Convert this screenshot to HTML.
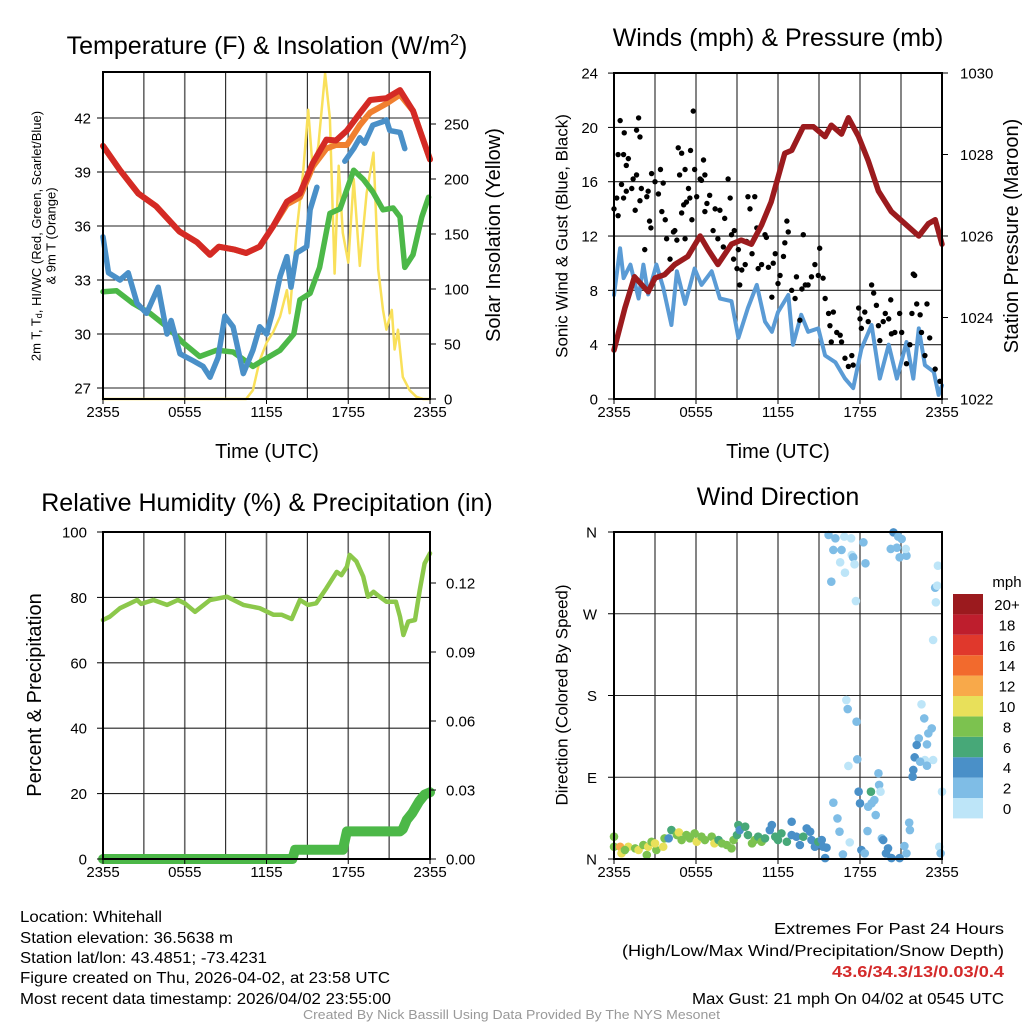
<!DOCTYPE html>
<html><head><meta charset="utf-8"><style>
html,body{margin:0;padding:0;background:#fff;}
svg{display:block;font-family:"Liberation Sans",sans-serif;}
</style></head><body>
<svg id="fig" width="1024" height="1024" viewBox="0 0 1024 1024" xmlns="http://www.w3.org/2000/svg">
<rect width="1024" height="1024" fill="#fff"/>
<g id="grid"></g>
<g id="marks"></g>
<g id="axes"></g>
<!-- titles -->
<text x="267" y="54" font-size="25" text-anchor="middle">Temperature (F) &amp; Insolation (W/m<tspan dy="-9" font-size="16">2</tspan><tspan dy="9">)</tspan></text>
<text x="778" y="46" font-size="25" text-anchor="middle">Winds (mph) &amp; Pressure (mb)</text>
<text x="267" y="511" font-size="25" text-anchor="middle">Relative Humidity (%) &amp; Precipitation (in)</text>
<text x="778" y="505" font-size="25" text-anchor="middle">Wind Direction</text>
<!-- x titles -->
<text x="267" y="458" font-size="20" text-anchor="middle">Time (UTC)</text>
<text x="778" y="458" font-size="20" text-anchor="middle">Time (UTC)</text>
<!-- y titles -->
<text transform="translate(36,236) rotate(-90)" font-size="13" text-anchor="middle" dominant-baseline="central">2m T, T<tspan dy="3" font-size="9">d</tspan><tspan dy="-3">, HI/WC (Red, Green, Scarlet/Blue)</tspan></text>
<text transform="translate(51,236) rotate(-90)" font-size="13" text-anchor="middle" dominant-baseline="central">&amp; 9m T (Orange)</text>
<text transform="translate(494,235) rotate(-90)" font-size="20" text-anchor="middle" dominant-baseline="central">Solar Insolation (Yellow)</text>
<text transform="translate(562,236) rotate(-90)" font-size="17" text-anchor="middle" dominant-baseline="central">Sonic Wind &amp; Gust (Blue, Black)</text>
<text transform="translate(1012,236) rotate(-90)" font-size="20" text-anchor="middle" dominant-baseline="central">Station Pressure (Maroon)</text>
<text transform="translate(35,695) rotate(-90)" font-size="20" text-anchor="middle" dominant-baseline="central">Percent &amp; Precipitation</text>
<text transform="translate(562,695) rotate(-90)" font-size="17" text-anchor="middle" dominant-baseline="central">Direction (Colored By Speed)</text>
<!-- colorbar -->
<g id="cbar"></g>
<text x="1007" y="587" font-size="15" text-anchor="middle">mph</text>
<!-- footer -->
<g font-size="16">
<text x="20" y="922" textLength="142" lengthAdjust="spacingAndGlyphs">Location: Whitehall</text>
<text x="20" y="943" textLength="213" lengthAdjust="spacingAndGlyphs">Station elevation: 36.5638 m</text>
<text x="20" y="963" textLength="247" lengthAdjust="spacingAndGlyphs">Station lat/lon: 43.4851; -73.4231</text>
<text x="20" y="983" textLength="370" lengthAdjust="spacingAndGlyphs">Figure created on Thu, 2026-04-02, at 23:58 UTC</text>
<text x="20" y="1004" textLength="371" lengthAdjust="spacingAndGlyphs">Most recent data timestamp: 2026/04/02 23:55:00</text>
</g>
<g font-size="16">
<text x="774" y="934" textLength="230" lengthAdjust="spacingAndGlyphs">Extremes For Past 24 Hours</text>
<text x="622" y="956" textLength="382" lengthAdjust="spacingAndGlyphs">(High/Low/Max Wind/Precipitation/Snow Depth)</text>
<text x="832" y="977" textLength="172" lengthAdjust="spacingAndGlyphs" font-weight="bold" fill="#d42a2a">43.6/34.3/13/0.03/0.4</text>
<text x="692" y="1004" textLength="312" lengthAdjust="spacingAndGlyphs">Max Gust: 21 mph On 04/02 at 0545 UTC</text>
</g>
<text x="303" y="1019" font-size="12.5" fill="#999" textLength="417" lengthAdjust="spacingAndGlyphs">Created By Nick Bassill Using Data Provided By The NYS Mesonet</text>
</svg>
<script>
// ---------- data ----------
const X_LABELS=['2355','0555','1155','1755','2355'];
const TEMP_TICKS=[27,30,33,36,39,42];
const INS_TICKS=[0,50,100,150,200,250];
const WIND_TICKS=[0,4,8,12,16,20,24];
const PRES_TICKS=[1022,1024,1026,1028,1030];
const RH_TICKS=[0,20,40,60,80,100];
const PCP_TICKS=[0,0.03,0.06,0.09,0.12];
const PCP_LABELS=['0.00','0.03','0.06','0.09','0.12'];
const DIR_TICKS=[0,90,180,270,360];
const DIR_LABELS=['N','E','S','W','N'];
const CBAR_LABELS=['0','2','4','6','8','10','12','14','16','18','20+'];
const CBAR_COLORS=['#bde5f8','#7fbde6','#4a90c8','#47a878','#7cc24f','#e8e05a','#f8a94a','#f26a2d','#e0382c','#be1e2d','#9b1a1e'];

const RED_T=[0,1.25,2.6,3.9,5.6,6.9,7.85,8.5,9.6,10.5,11.5,12.5,13.5,14.45,15.4,16.4,17.1,17.9,18.85,19.6,20.8,21.8,22.75,23.4,24];
const RED_V=[40.45,39.1,37.8,37.1,35.7,35.1,34.4,34.85,34.7,34.5,34.85,36.0,37.35,37.8,39.5,40.8,40.75,41.3,42.26,43.0,43.1,43.55,42.4,41.0,39.7];
const ORG_V=[40.45,39.1,37.8,37.1,35.7,35.1,34.4,34.85,34.7,34.5,34.85,36.0,37.2,37.6,39.3,40.3,40.5,40.5,41.6,42.3,42.8,43.3,42.4,41.0,39.7];
const GRN_T=[0,1.0,2.2,3.45,4.7,5.9,7.1,8.35,9.55,11.0,12.0,13.0,14.0,14.45,15.2,15.9,16.65,17.4,18.4,19.1,19.8,20.55,21.3,21.8,22.15,22.75,23.4,23.9];
const GRN_V=[32.35,32.4,31.7,31.15,30.4,29.5,28.75,29.1,29.0,28.2,28.65,29.1,30.0,31.9,32.26,33.7,36.7,36.96,39.1,38.6,37.9,36.9,37.0,36.5,33.7,34.4,36.5,37.6];
const BLU_T=[0,0.4,1.25,1.85,2.5,3.2,4.05,4.7,5.0,5.65,6.65,7.35,7.85,8.45,8.95,9.55,10.3,11.0,11.5,12.0,12.4,13.0,13.5,13.8,14.2,14.95,15.2,15.7,15.75,17.75,18.4,18.85,19.2,19.8,20.55,20.8,21.05,21.8,22.15];
const BLU_V=[35.4,33.4,33.0,33.4,31.7,31.15,32.6,30.0,30.75,28.9,28.5,28.2,27.6,28.7,31.0,30.4,27.8,29.1,30.4,30.0,31.1,33.2,34.3,32.6,34.5,34.85,36.9,38.15,null,39.6,40.3,40.9,40.6,41.6,41.8,41.9,41.3,41.2,40.3];
const INS_T=[0,10.5,11.0,11.5,12.0,12.5,13.0,13.5,13.7,14.2,14.7,15.06,15.4,15.8,16.3,16.65,17.0,17.3,17.6,18.0,18.4,18.85,19.35,19.85,20.2,20.55,20.8,21.2,21.4,21.65,22.0,22.5,23.0,23.5,24];
const INS_V=[0,0,8,35,51,61,75,99,78,151,208,263,208,230,296,255,114,212,151,124,200,121,187,224,118,81,63,81,45,63,20,8,2,0,0];

const PRES_T=[0,0.8,1.5,2.5,3.0,3.7,4.45,5.4,6.3,6.9,7.6,8.6,9.3,10.05,10.8,11.5,12.5,13.0,13.85,14.6,15.45,15.9,16.65,17.15,17.9,18.6,19.35,20.3,21.3,22.3,23.0,23.5,24.0];
const PRES_V=[1023.2,1024.23,1025.0,1024.63,1024.97,1025.05,1025.3,1025.5,1026.0,1025.66,1025.3,1025.8,1025.9,1025.8,1026.27,1026.84,1028.03,1028.1,1028.68,1028.68,1028.44,1028.72,1028.5,1028.9,1028.44,1027.85,1027.1,1026.6,1026.3,1026.0,1026.3,1026.4,1025.8];
const WIND_T=[0,0.45,0.7,1.2,1.8,2.15,2.5,3.1,3.6,4.2,4.6,5.2,5.9,6.4,7.15,7.75,8.6,9.1,9.8,10.45,11.05,11.55,12.0,12.75,13.1,13.7,14.2,14.95,15.45,16.2,16.9,17.5,18.1,18.85,19.45,20.1,20.7,21.4,21.9,22.3,22.75,23.4,23.75,24.0];
const WIND_V=[7.66,11.1,8.9,9.9,7.4,9.9,7.7,9.9,8.2,5.45,9.4,7.0,9.6,8.4,9.4,7.4,7.2,4.5,6.7,8.4,5.7,4.95,6.4,7.66,4.0,6.2,4.95,5.2,3.2,2.7,1.5,0.8,3.7,5.45,1.5,4.0,1.5,4.2,1.5,5.2,2.5,2.0,0.3,1.0];
const GUST_T=[0,0.2,0.3,0.45,0.3,0.7,0.75,0.55,0.7,0.9,1.05,0.9,1.3,1.4,1.55,1.65,1.8,1.65,1.9,1.9,2.0,2.4,2.5,2.6,2.7,2.25,2.75,3.0,3.25,3.4,3.5,3.6,3.75,3.85,4.1,4.2,4.35,4.45,4.6,4.7,4.8,4.95,4.95,5.1,5.2,5.2,5.3,5.45,5.55,5.6,5.7,5.8,5.9,6.05,6.3,6.4,6.55,6.65,6.65,6.8,7.0,7.25,7.4,7.6,7.75,8.0,8.1,8.35,8.5,8.6,8.75,8.8,9.0,9.1,9.2,9.35,9.6,9.7,9.8,9.95,10.1,10.3,10.45,10.55,10.8,11.05,11.15,11.3,11.55,11.65,11.8,12.0,12.15,12.4,12.5,12.65,12.75,13.0,13.25,13.35,13.6,13.75,13.85,14.0,14.2,14.45,14.7,14.95,15.05,15.3,15.45,15.7,15.8,15.9,16.05,16.3,16.55,16.65,16.9,17.15,17.4,17.5,17.9,18.0,18.1,18.35,18.6,18.85,19.0,19.2,19.35,19.45,19.7,19.85,20.1,20.25,20.3,20.55,20.9,21.05,21.4,21.65,21.8,21.9,22.0,22.15,22.4,22.5,22.75,22.9,23.1,23.5,23.85];
const GUST_V=[14.0,14.8,13.5,20.5,18.0,18.0,19.6,15.8,14.8,17.2,17.7,15.3,15.5,16.2,13.9,19.8,20.7,16.5,14.6,19.3,15.5,14.9,15.3,13.1,12.6,11.0,16.6,16.0,15.1,16.9,13.8,15.9,13.2,11.8,10.3,9.6,12.3,12.4,11.7,18.5,16.5,18.1,13.7,14.3,11.8,16.9,14.5,15.5,14.8,18.3,13.2,21.2,16.9,14.9,16.2,16.1,17.6,16.5,13.8,14.4,15.0,12.4,14.0,11.8,13.9,11.2,13.3,16.2,14.8,12.1,10.3,12.4,9.6,11.0,8.4,9.5,9.9,11.6,14.9,14.0,10.7,14.9,12.6,9.6,9.9,12.1,11.9,9.7,7.5,10.0,10.7,8.5,9.1,10.5,11.5,13.1,12.3,8.0,7.4,9.0,5.8,8.1,12.1,8.4,8.4,9.0,9.9,9.1,11.1,8.9,7.4,6.3,5.4,4.2,6.4,4.9,4.7,4.2,3.0,2.4,3.2,2.5,6.7,5.9,5.2,6.4,5.7,8.4,7.8,6.9,5.4,4.3,5.7,6.3,5.9,7.3,4.8,4.9,6.3,4.9,2.6,4.0,6.3,9.2,9.1,7.0,6.2,4.9,3.2,7.0,4.5,2.2,1.3];

const RH_T=[0,0.5,1.25,2.5,2.8,3.7,4.7,5.5,6.0,6.75,7.85,9.1,10.3,11.5,12.5,13.1,13.85,14.45,15.05,15.65,16.4,17.15,17.5,17.9,18.1,18.6,19.1,19.45,19.85,20.3,20.8,21.5,21.8,22.05,22.4,22.9,23.25,23.6,24.0];
const RH_V=[73.1,74.1,76.7,79.2,78,79.2,77.7,79.2,78.2,75.6,79.2,80.2,77.7,76.7,74.7,74.7,73.4,79.2,77.7,78.2,82.8,87.8,86.8,89.4,93.0,91,86.4,80.2,81.7,80.2,78.7,78.7,74.1,68.5,72.6,73.1,82.3,90.4,93.5];
const PCP_T=[0,13.9,14.1,17.6,17.9,21.8,22.0,22.3,22.7,23.2,23.6,24];
const PCP_V=[0,0,0.004,0.004,0.012,0.012,0.013,0.017,0.02,0.025,0.028,0.029];

const DIR_T=[15.7,16.2,16.85,17.35,16.05,16.65,17.4,17.5,16.55,17.6,16.9,15.9,17.7,18.25,18.4,20.45,20.8,21.05,20.25,20.7,20.9,21.4,21.35,23.7,23.5,23.65,23.55,23.35,
17.0,17.1,17.75,17.8,17.15,19.35,19.4,17.9,18.8,19.5,18.0,18.6,18.85,19.05,19.15,22.5,22.7,23.25,23.0,22.3,22.15,22.9,22.0,22.75,23.35,22.4,22.9,21.9,21.85,24.0,21.6,21.65,16.05,16.35,16.5,17.25,18.55,19.6,19.7,18.1,18.35,20.05,19.9,20.3,20.9,21.25,21.4,23.8,23.9,16.75,15.45,15.55,14.7,
0,0,0.45,0.55,1.05,0.8,1.55,1.8,2.15,2.4,2.5,2.75,3.1,3.0,3.6,3.7,4.0,4.2,4.6,4.75,4.95,5.3,5.55,6.05,5.9,6.4,6.65,7.15,7.35,7.65,7.9,8.25,8.6,8.75,9.0,9.1,9.2,9.6,9.8,10.1,10.3,10.55,10.8,11.05,11.4,11.55,11.8,12.0,12.25,12.65,13.0,13.0,13.35,13.6,13.85,14.1,14.35,14.45,14.95,15.2,15.3];
const DIR_V=[356.7,353,354.9,353,340.2,340.2,334.7,332.1,326.6,324.4,315.2,305.3,284,348.6,325.5,359.6,354.9,352.3,341.3,342.7,332.1,333.9,341.3,322.9,298.7,300.9,282.6,241.1,
175,165.1,151.2,109.7,102.4,94.3,81.5,74.1,74.1,74.1,61.3,57.6,61.3,64.9,48.4,170.3,154.8,143.8,138.3,132.8,125.5,126.2,111.9,109,109,107.1,102.7,98,90.6,74.1,40,31.9,62,44.7,30.1,18.3,30.8,22.7,20.9,9.9,6.2,11.7,6.2,1,1,14.3,6.2,13.5,6.2,5.1,1,12.5,13.5,
24.6,13.5,13.5,6.2,13.5,9.9,11.7,9.9,15.4,4.4,13.5,19,9.9,17.2,13.5,22.7,22.7,31.9,26.4,29.3,20.9,26.4,22.7,19,28.2,24.6,20.9,24.6,17.2,20.9,17.2,15.4,11.7,20.9,26.4,37.4,31.9,35.6,26.4,17.2,20.9,24.6,19,22.7,31.9,37.4,24.6,20.9,28.2,19,41,26.4,24.6,15.4,24.6,33.7,30.1,20.9,19,20.9,13.5];
const DIR_S=[2,2,0,0,2,2,0,2,0,0,0,2,0,2,3,4,2,2,2,2,2,2,0,0,2,0,0,0,
0,2,2,2,0,2,2,4,6,0,4,3,3,3,2,0,2,2,2,2,4,2,4,0,0,2,2,4,4,0,2,2,2,2,2,0,2,3,4,4,2,4,4,4,4,2,2,0,2,2,4,4,4,
8,8,12,10,10,8,8,10,8,8,10,8,8,10,10,8,4,6,8,10,8,8,8,10,8,8,8,8,10,6,8,8,8,8,6,6,4,6,6,8,8,6,8,6,4,4,6,6,6,6,4,4,4,4,6,4,4,4,6,4,4];

// ---------- scales ----------
const P1={x0:103,x1:430,y0:72,y1:399};
const P2={x0:614,x1:942,y0:73,y1:399};
const P3={x0:103,x1:430,y0:532,y1:859};
const P4={x0:614,x1:942,y0:532,y1:859};
const xs=(P,t)=>P.x0+t/24*(P.x1-P.x0);
const yTemp=v=>118+(42-v)*18;
const yIns=v=>399-v*1.1;
const yWind=v=>399-v*13.58;
const yPres=v=>399-(v-1022)*40.75;
const yRH=v=>859-v*3.27;
const yPcp=v=>859-v*2300;
const yDir=v=>859-v*327/360;

const NS='http://www.w3.org/2000/svg';
function el(tag,parent){const e=document.createElementNS(NS,tag);document.getElementById(parent).appendChild(e);return e;}
function pathD(P,T,V,f){let d='',pen=false;for(let i=0;i<T.length;i++){if(V[i]===null){pen=false;continue;}d+=(pen?'L':'M')+xs(P,T[i]).toFixed(1)+','+f(V[i]).toFixed(1);pen=true;}return d;}
function line(x1,y1,x2,y2,stroke,w,grp){const l=el('line',grp);l.setAttribute('x1',x1);l.setAttribute('y1',y1);l.setAttribute('x2',x2);l.setAttribute('y2',y2);l.setAttribute('stroke',stroke);l.setAttribute('stroke-width',w);return l;}
function txt(x,y,s,anchor,size,grp){const t=el('text',grp);t.setAttribute('x',x);t.setAttribute('y',y);t.setAttribute('text-anchor',anchor);t.setAttribute('font-size',size);t.textContent=s;return t;}

// ---------- grids & frames ----------
[P1,P2,P3,P4].forEach((P,pi)=>{
  for(let h=3;h<24;h+=3){
    const g=line(xs(P,h),P.y0,xs(P,h),P.y1,h%6===0?'#666':'#222',h%6===0?1.6:1.1,'grid');
    
    
  }
  for(let k=0;k<5;k++){
    const t=k*6;
    const tk=line(xs(P,t),P.y1,xs(P,t),P.y1+5,'#000',1,'axes');
    
    
    const lb=txt(xs(P,t),P.y1+18,X_LABELS[k],'middle',15,'axes');
    
    
  }
  const fr=el('rect','axes');
  fr.setAttribute('x',P.x0);fr.setAttribute('y',P.y0);fr.setAttribute('width',P.x1-P.x0);fr.setAttribute('height',P.y1-P.y0);
  fr.setAttribute('fill','none');fr.setAttribute('stroke','#000');fr.setAttribute('stroke-width',2);
  
  
});
function leftAxis(P,ticks,labels,f,xLab,hgrid){
  ticks.forEach((v,i)=>{
    const y=f(v);
    if(hgrid && y>P.y0+1 && y<P.y1-1){
      const g=line(P.x0,y,P.x1,y,'#222',1.1,'grid');
      
      
    }
    const tk=line(P.x0-6,y,P.x0,y,'#000',1,'axes');
    
    
    const lb=txt(xLab,y+5.5,labels[i],'end',15,'axes');
    
    
  });
}
function rightAxis(P,ticks,labels,f,xLab){
  ticks.forEach((v,i)=>{
    const y=f(v);
    const tk=line(P.x1,y,P.x1+6,y,'#000',1,'axes');
    
    
    const lb=txt(xLab,y+5.5,labels[i],'start',15,'axes');
    
    
  });
}
leftAxis(P1,TEMP_TICKS,TEMP_TICKS.map(String),yTemp,91,true);
rightAxis(P1,INS_TICKS,INS_TICKS.map(String),yIns,444);
leftAxis(P2,WIND_TICKS,WIND_TICKS.map(String),yWind,598,true);
rightAxis(P2,PRES_TICKS,PRES_TICKS.map(String),yPres,960);
leftAxis(P3,RH_TICKS,RH_TICKS.map(String),yRH,87,true);
rightAxis(P3,PCP_TICKS,PCP_LABELS,yPcp,446);
leftAxis(P4,DIR_TICKS,DIR_LABELS,yDir,597,true);

// ---------- series ----------
function series(P,T,V,f,color,w,name){
  const p=el('path','marks');
  p.setAttribute('d',pathD(P,T,V,f));
  p.setAttribute('fill','none');p.setAttribute('stroke',color);p.setAttribute('stroke-width',w);
  p.setAttribute('stroke-linejoin','round');p.setAttribute('stroke-linecap','round');
  
  
}
series(P1,INS_T,INS_V,yIns,'#f9e05a',2.5,'insolation-line');
series(P1,GRN_T,GRN_V,yTemp,'#4cb848',5.5,'dewpoint-line');
series(P1,BLU_T,BLU_V,yTemp,'#4a90c8',5.5,'wind-chill-line');
series(P1,RED_T,ORG_V,yTemp,'#f08030',6,'temp-9m-line');
series(P1,RED_T,RED_V,yTemp,'#d42a25',6,'temp-2m-line');

series(P2,WIND_T,WIND_V,yWind,'#5a9bd5',4,'sonic-wind-line');
GUST_T.forEach((t,i)=>{
  const c=el('circle','marks');
  c.setAttribute('cx',xs(P2,t));c.setAttribute('cy',yWind(GUST_V[i]));c.setAttribute('r',2.7);c.setAttribute('fill','#000');
  
  
});
series(P2,PRES_T,PRES_V,yPres,'#9b1b1e',5.5,'pressure-line');

series(P3,PCP_T,PCP_V,yPcp,'#4cb848',10,'precipitation-line');
series(P3,RH_T,RH_V,yRH,'#8cc84b',4.5,'humidity-line');

DIR_T.forEach((t,i)=>{
  const c=el('circle','marks');
  const idx=Math.min(10,Math.floor(DIR_S[i]/2));
  c.setAttribute('cx',xs(P4,t));c.setAttribute('cy',yDir(DIR_V[i]));c.setAttribute('r',4.3);c.setAttribute('fill',CBAR_COLORS[idx]);
  
  
});

// ---------- colorbar ----------
CBAR_LABELS.forEach((s,i)=>{
  const y=594+(10-i)*20.4;
  const r=el('rect','cbar');
  r.setAttribute('x',953);r.setAttribute('y',y);r.setAttribute('width',30);r.setAttribute('height',20.4);r.setAttribute('fill',CBAR_COLORS[i]);
  
  
  const t=txt(1007,y+16,s,'middle',15,'cbar');
  
  
});
</script>
</body></html>
